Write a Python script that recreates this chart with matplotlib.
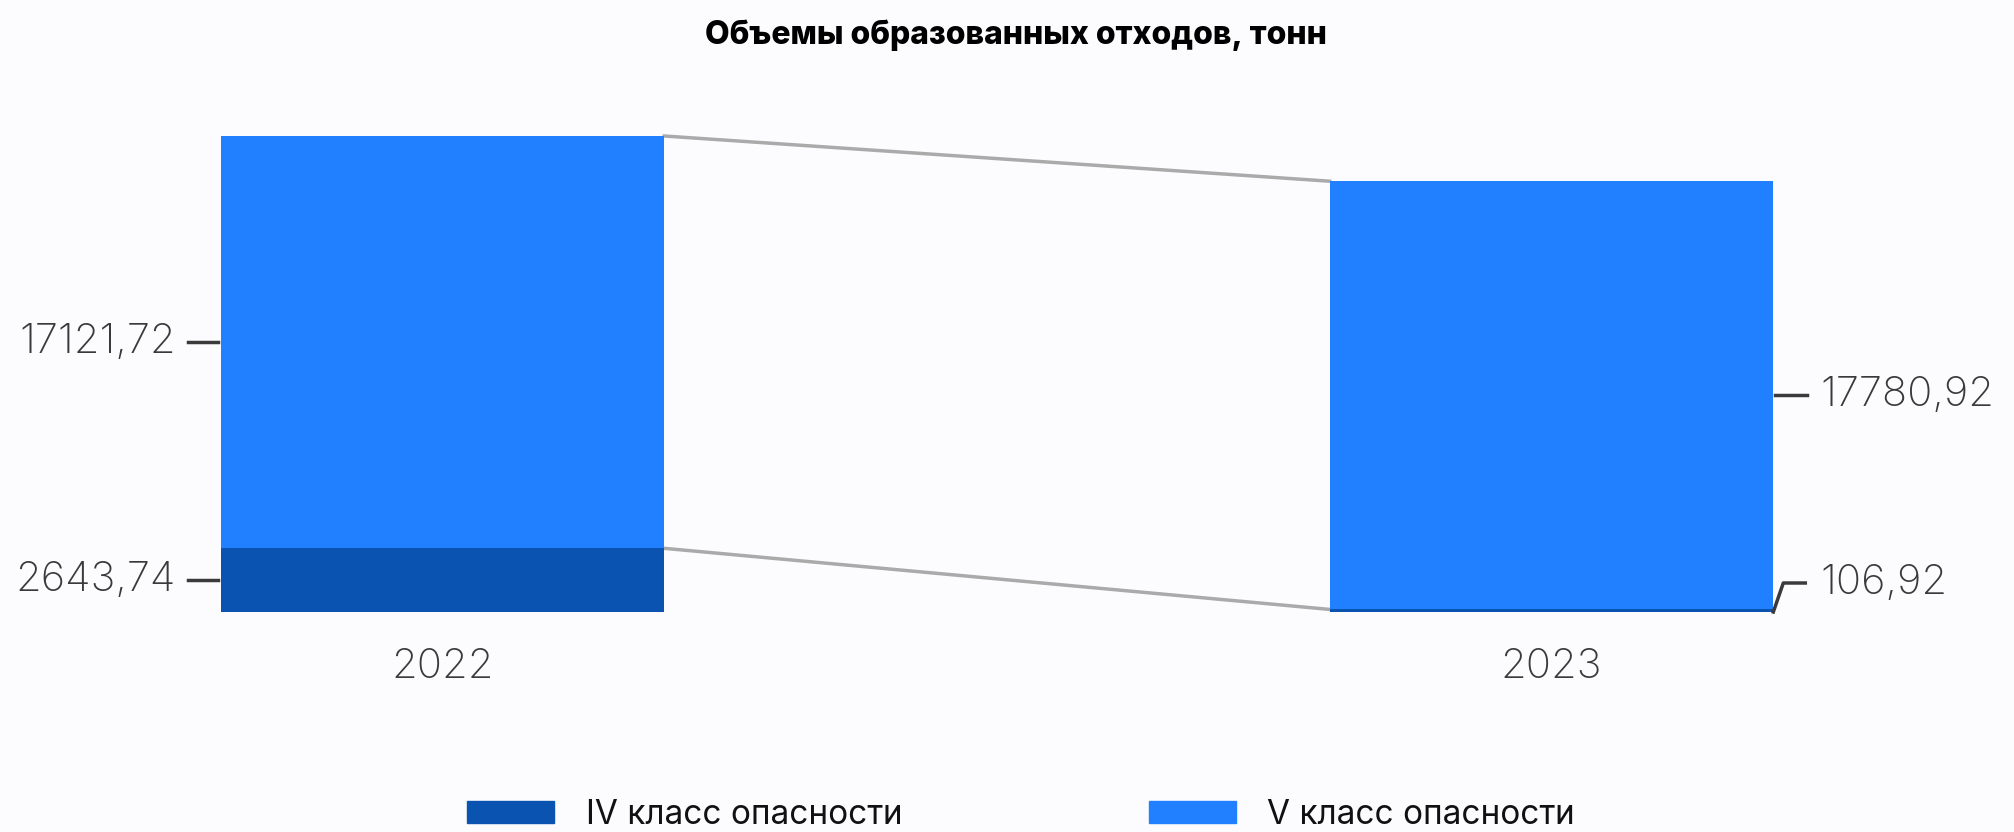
import matplotlib
matplotlib.use("Agg")
import matplotlib.pyplot as plt
from matplotlib.patches import Patch

plt.rcParams['font.family'] = ['Inter', 'DejaVu Sans']

# waste volumes, tonnes
years = ["2022", "2023"]
class_iv = [2643.74, 106.92]
class_v = [17121.72, 17780.92]
series_names = ["IV класс опасности", "V класс опасности"]
title = "Объемы образованных отходов, тонн"

dark_blue = "#0b53b1"
light_blue = "#2180ff"
text_col = "#3a3a3a"
bg = "#fcfcfe"

W, H = 2014, 832
fig = plt.figure(figsize=(W / 100, H / 100), dpi=100, facecolor=bg)

# axes placed in pixel terms: baseline at y=612, bars 443 px wide
unit = 1109.0
x0, x1 = -0.3, 1.3
left_px = 442.5 + x0 * unit
base_px = 612
top_px = 100
total_2022 = class_iv[0] + class_v[0]
ymax = total_2022 * (base_px - top_px) / 476.0
ax = fig.add_axes([left_px / W, (H - base_px) / H, (x1 - x0) * unit / W, (base_px - top_px) / H])
ax.set_xlim(x0, x1)
ax.set_ylim(0, ymax)
ax.axis("off")

xs = range(len(years))
bw = 0.4
ax.bar(xs, class_iv, width=bw, color=dark_blue, zorder=2)
ax.bar(xs, class_v, width=bw, bottom=class_iv, color=light_blue, zorder=2)

# connector lines between the stacks
tops = [a + b for a, b in zip(class_iv, class_v)]
ax.plot([bw / 2, 1 - bw / 2], [tops[0], tops[1]], color="#aaaaaa", lw=2.5, zorder=1)
ax.plot([bw / 2, 1 - bw / 2], [class_iv[0], class_iv[1]], color="#aaaaaa", lw=2.5, zorder=1)

px = (x1 - x0) / ((x1 - x0) * unit)  # data units per pixel on x
py = ymax / (base_px - top_px)       # data units per pixel on y
fs = 30

# 2022 labels on the left
for val, y in [(class_v[0], class_iv[0] + class_v[0] / 2), (class_iv[0], class_iv[0] / 2)]:
    lx = -bw / 2 - 3 * px
    ax.plot([lx - 30 * px, lx], [y, y], color=text_col, lw=2.5, clip_on=False)
    ax.text(lx - 42 * px, y, f"{val:.2f}".replace(".", ","), ha="right", va="center",
            fontsize=fs, color=text_col, fontweight="light")

# 2023 labels on the right
rx = 1 + bw / 2 + 2 * px
ym = class_iv[1] + class_v[1] / 2
ax.plot([rx, rx + 32 * px], [ym, ym], color=text_col, lw=2.5, clip_on=False)
ax.text(rx + 45 * px, ym, f"{class_v[1]:.2f}".replace(".", ","), ha="left", va="center",
        fontsize=fs, color=text_col, fontweight="light")
yl = 29 * py
ax.plot([rx - 2 * px, rx + 8 * px, rx + 30 * px], [0, yl, yl], color=text_col, lw=2.5, clip_on=False)
ax.text(rx + 45 * px, yl, f"{class_iv[1]:.2f}".replace(".", ","), ha="left", va="center",
        fontsize=fs, color=text_col, fontweight="light")

# year labels
for i, yr in enumerate(years):
    ax.text(i, -55 * py, yr, ha="center", va="center", fontsize=fs, color=text_col,
            fontweight="light", clip_on=False)

fig.text(1016 / W, 1 - 35 / H, title, ha="center", va="center", fontsize=23,
         fontweight="heavy", color="black")

handles = [Patch(color=dark_blue), Patch(color=light_blue)]
fig.legend(handles, series_names, loc="center", bbox_to_anchor=(0.507, 1 - 815 / H), ncol=2,
           frameon=False, fontsize=24, handlelength=2.6, handleheight=0.62,
           handletextpad=0.95, columnspacing=7.4, labelcolor="#111111")

fig.savefig("out.png", dpi=100, facecolor=bg)
